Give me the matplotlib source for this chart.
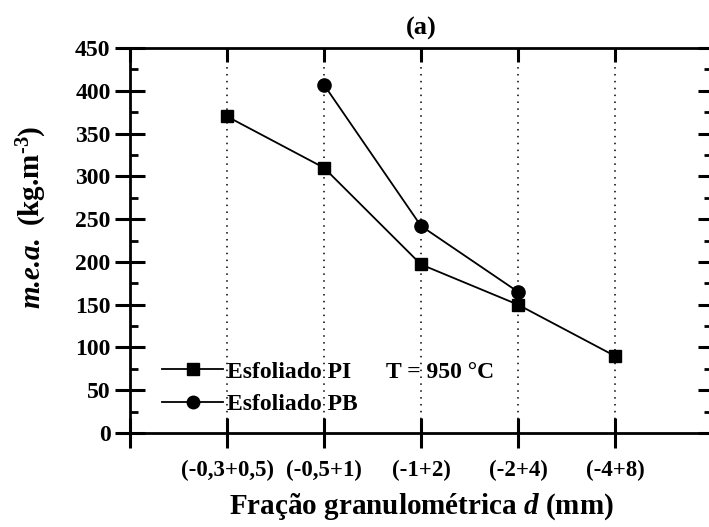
import matplotlib
matplotlib.use("Agg")
import matplotlib.pyplot as plt
from matplotlib.ticker import MultipleLocator, FixedLocator
from matplotlib.lines import Line2D

categories = ["(-0,3+0,5)", "(-0,5+1)", "(-1+2)", "(-2+4)", "(-4+8)"]
pi_values = [370, 310, 197, 150, 90]
pb_categories = ["(-0,5+1)", "(-1+2)", "(-2+4)"]
pb_values = [407, 242, 165]

plt.rcParams["font.family"] = ["Liberation Serif", "DejaVu Serif"]
plt.rcParams["font.weight"] = "bold"
plt.rcParams["mathtext.fontset"] = "custom"
plt.rcParams["mathtext.rm"] = "Liberation Serif:bold"
plt.rcParams["mathtext.it"] = "Liberation Serif:bold:italic"
plt.rcParams["mathtext.bf"] = "Liberation Serif:bold"

W, H = 709, 527
fig = plt.figure(figsize=(W / 100, H / 100), dpi=100)
rect = [130 / W, 1 - 433 / H, (712 - 130) / W, (433 - 48) / H]
ax = fig.add_axes(rect)

xpos = {c: i + 1 for i, c in enumerate(categories)}
x_pi = [xpos[c] for c in categories]
x_pb = [xpos[c] for c in pb_categories]

# dotted guides at every size fraction
for x in x_pi:
    ax.axvline(x, color="black", linestyle=(0, (1, 3.5)), linewidth=1.1, zorder=1)

ax.plot(x_pi, pi_values, color="black", linewidth=1.3, marker="s", markersize=8.5,
        zorder=3)
ax.plot(x_pb, pb_values, color="black", linewidth=1.3, marker="o", markersize=9.5,
        zorder=3)

ax.set_xlim(0, 6)
ax.set_ylim(0, 450)
ax.xaxis.set_major_locator(FixedLocator([0] + x_pi))
ax.set_xticklabels([""] + categories)
ax.yaxis.set_major_locator(MultipleLocator(50))
ax.yaxis.set_minor_locator(MultipleLocator(25))
ax.xaxis.set_minor_locator(FixedLocator([]))

for s in ax.spines.values():
    s.set_linewidth(2.0)

ax.tick_params(axis="y", which="major", direction="inout", length=22, width=2.2,
               labelsize=17, right=False, pad=3)
ax.tick_params(axis="y", which="minor", direction="in", length=6, width=2.0, right=False)
ax.tick_params(axis="x", which="major", direction="inout", length=22, width=2.2,
               labelsize=16.5, top=False, pad=8)
for lbl in ax.get_xticklabels() + ax.get_yticklabels():
    lbl.set_fontweight("bold")

# inward ticks on the top and right edges
ax2 = fig.add_axes(rect, sharex=ax, sharey=ax)
ax2.patch.set_visible(False)
for s in ax2.spines.values():
    s.set_visible(False)
ax2.tick_params(axis="both", which="both", left=False, bottom=False,
                labelleft=False, labelbottom=False)
ax2.tick_params(axis="x", which="major", top=True, direction="in", length=10, width=2.2)
ax2.tick_params(axis="y", which="major", right=True, direction="in", length=10, width=2.2)
ax2.tick_params(axis="y", which="minor", right=True, direction="in", length=6, width=2.0)

ax.set_xlabel(r"Fração granulométrica $\mathit{d}$ (mm)", fontsize=21,
              fontweight="bold", labelpad=8)
ax.set_title("(a)", fontsize=19, fontweight="bold", pad=10)

# y-axis title in two pieces: italic abbreviation and units
fig.text(32 / W, 1 - 272 / H, "m.e.a.", rotation=90, fontsize=21,
         fontweight="bold", fontstyle="italic", ha="center", va="center")
fig.text(32 / W, 1 - 176 / H, r"(kg.m$^{\mathrm{‐3}}$)", rotation=90, fontsize=21,
         fontweight="bold", ha="center", va="center")

handles = [
    Line2D([], [], color="black", linewidth=1.3, marker="s", markersize=8),
    Line2D([], [], color="black", linewidth=1.3, marker="o", markersize=9),
]
ax.legend(handles, ["Esfoliado PI", "Esfoliado PB"], loc="center left",
          bbox_to_anchor=(32 / 582, 45 / 385), frameon=False,
          handlelength=2.6, handletextpad=0.15, labelspacing=0.45,
          borderpad=0, borderaxespad=0,
          prop={"weight": "bold", "size": 17})

ax.text(2.64, 71, "T = 950 °C", fontsize=17, fontweight="bold", va="center", ha="left")

fig.savefig("out.png", dpi=100)
